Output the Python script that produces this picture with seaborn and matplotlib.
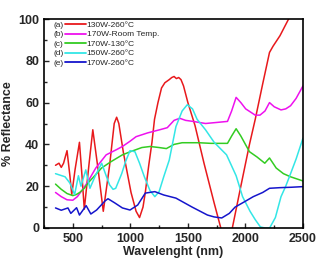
import numpy as np
import pandas as pd
import seaborn as sns
import matplotlib
matplotlib.use('Agg')
import matplotlib.pyplot as plt

# series (wavelength nm, % reflectance)
wl_a = [350, 380, 400, 420, 450, 475, 491, 520, 558, 580, 600, 640, 674, 720, 765, 820, 860, 881, 900,
        940, 1006, 1050, 1080, 1110, 1130, 1160, 1188, 1210, 1240, 1271, 1300, 1338, 1360, 1380, 1400, 1420,
        1440, 1462, 1500, 1562, 1640, 1728, 1786, 1840, 1886, 1960, 2035, 2085, 2150, 2209, 2240, 2300, 2375, 2420]
r_a = [30, 31, 29, 31, 37, 25, 16, 28, 41, 25, 9, 30, 47, 28, 8, 30, 50, 53, 50,
       36, 17, 8, 5, 10, 17, 30, 41, 52, 60, 67, 69.5, 71, 72, 72.5, 71.5, 72,
       71, 68, 60, 49, 31, 12, 0, -8, 0, 20, 40, 52, 69, 84, 87, 92, 100, 106]

wl_b = [350, 400, 450, 500, 540, 580, 624, 700, 790, 880, 931, 997, 1050, 1150, 1255, 1321, 1380, 1429,
        1480, 1545, 1653, 1750, 1844, 1880, 1919, 1960, 2002, 2085, 2126, 2170, 2209, 2250, 2309, 2350,
        2392, 2440, 2500]
r_b = [17, 15, 13.5, 13.3, 15, 18, 21.5, 28.7, 35, 37.5, 39, 41.5, 43.7, 45.5, 47, 48, 51.5, 52.5,
       51.5, 51, 50, 50.5, 51, 56, 62.5, 60, 57, 54, 54, 56, 60, 58, 56.5, 57,
       58.5, 62, 68]

wl_c = [350, 400, 450, 500, 530, 560, 600, 640, 682, 750, 831, 931, 1000, 1100, 1172, 1250, 1313, 1380,
        1450, 1595, 1700, 1844, 1880, 1919, 1960, 2000, 2035, 2100, 2168, 2209, 2267, 2330, 2392, 2500]
r_c = [21, 18.5, 16.5, 15.5, 16, 17, 19, 22, 24.5, 28.7, 31.7, 35, 36.5, 38.5, 39, 38.5, 38, 40,
       40.8, 40.8, 40.5, 40.5, 44, 47.5, 44, 40, 36.5, 34, 31, 33.5, 28.7, 26, 24.5, 22.5]

wl_d = [350, 433, 475, 516, 549, 571, 613, 649, 696, 751, 790, 820, 850, 873, 925, 960, 997, 1040, 1080,
        1122, 1170, 1213, 1250, 1290, 1338, 1396, 1450, 1495, 1540, 1580, 1653, 1728, 1836, 1919, 1975,
        2040, 2085, 2130, 2170, 2210, 2260, 2309, 2350, 2392, 2440, 2500]
r_d = [26, 24.5, 21.5, 16, 25, 20, 27.8, 19, 25, 31, 25, 20.6, 18.5, 19, 26, 32, 37, 36.5, 31,
       24.5, 18, 15, 17.4, 24.5, 32.5, 48.5, 56, 59, 57, 52, 47, 41, 35, 25, 15,
       8, 4, 0.5, 0, 0, 5, 15, 20, 26, 33, 43]

wl_e = [350, 400, 458, 483, 533, 558, 616, 657, 707, 781, 806, 865, 931, 997, 1064, 1130, 1213, 1290,
        1396, 1537, 1670, 1728, 1794, 1860, 1910, 1990, 2068, 2150, 2209, 2300, 2400, 2500]
r_e = [9.6, 8.5, 9.6, 7, 9.7, 6.2, 10.7, 6.7, 8.6, 13, 14, 12, 9.6, 8.6, 11, 16.7, 17.4, 15.8,
       14.3, 10, 6.2, 5.3, 4.8, 7, 10, 12.5, 15, 17, 19, 19.3, 19.5, 19.8]

names = ['130W-260°C', '170W-Room Temp.', '170W-130°C', '150W-260°C', '170W-260°C']
tags = ['(a)', '(b)', '(c)', '(d)', '(e)']
colors = ['#e8191c', '#ee11ee', '#33cc22', '#33e6e6', '#1515cc']

df = pd.concat([
    pd.DataFrame({'wl': w, 'R': r, 'sample': n})
    for w, r, n in zip([wl_a, wl_b, wl_c, wl_d, wl_e], [r_a, r_b, r_c, r_d, r_e], names)
])

sns.set_style('ticks')
plt.rcParams['font.family'] = ['Liberation Sans', 'DejaVu Sans']

fig = plt.figure(figsize=(3.22, 2.63), dpi=100)
ax = fig.add_axes([44/322, 35/263, 259/322, 209/263])

sns.lineplot(data=df, x='wl', y='R', hue='sample', hue_order=names,
             palette=dict(zip(names, colors)), estimator=None, sort=True,
             linewidth=1.1, ax=ax)

ax.set_xlim(350, 2500)
ax.set_ylim(0, 100)
ax.set_xticks([500, 1000, 1500, 2000, 2500])
ax.set_xticks(np.arange(250, 2501, 250), minor=True)
ax.set_yticks(np.arange(0, 101, 20))
ax.set_yticks(np.arange(0, 101, 10), minor=True)
ax.tick_params(which='both', direction='in', width=1, labelsize=9)
ax.tick_params(which='major', length=3.5)
ax.tick_params(which='minor', length=2)
for lab in ax.get_xticklabels() + ax.get_yticklabels():
    lab.set_fontweight('bold')
for s in ax.spines.values():
    s.set_linewidth(1.2)
    s.set_color('black')

ax.set_xlabel('Wavelenght (nm)', fontsize=9, fontweight='bold', labelpad=1)
ax.set_ylabel('% Reflectance', fontsize=9, fontweight='bold', labelpad=3)

leg = ax.legend(loc='upper left', bbox_to_anchor=(0.081, 0.99), frameon=False,
                fontsize=6, handlelength=2.5, handletextpad=0.1, labelspacing=0.2,
                borderpad=0, borderaxespad=0)
for h in leg.legend_handles:
    h.set_linewidth(1.3)

fig.canvas.draw()
inv = ax.transAxes.inverted()
for t, tag in zip(leg.get_texts(), tags):
    bb = t.get_window_extent()
    yc = inv.transform((0, (bb.y0 + bb.y1) / 2))[1]
    ax.text(0.036, yc, tag, transform=ax.transAxes, fontsize=6, va='center', ha='left')

fig.savefig('out.png', dpi=100)
